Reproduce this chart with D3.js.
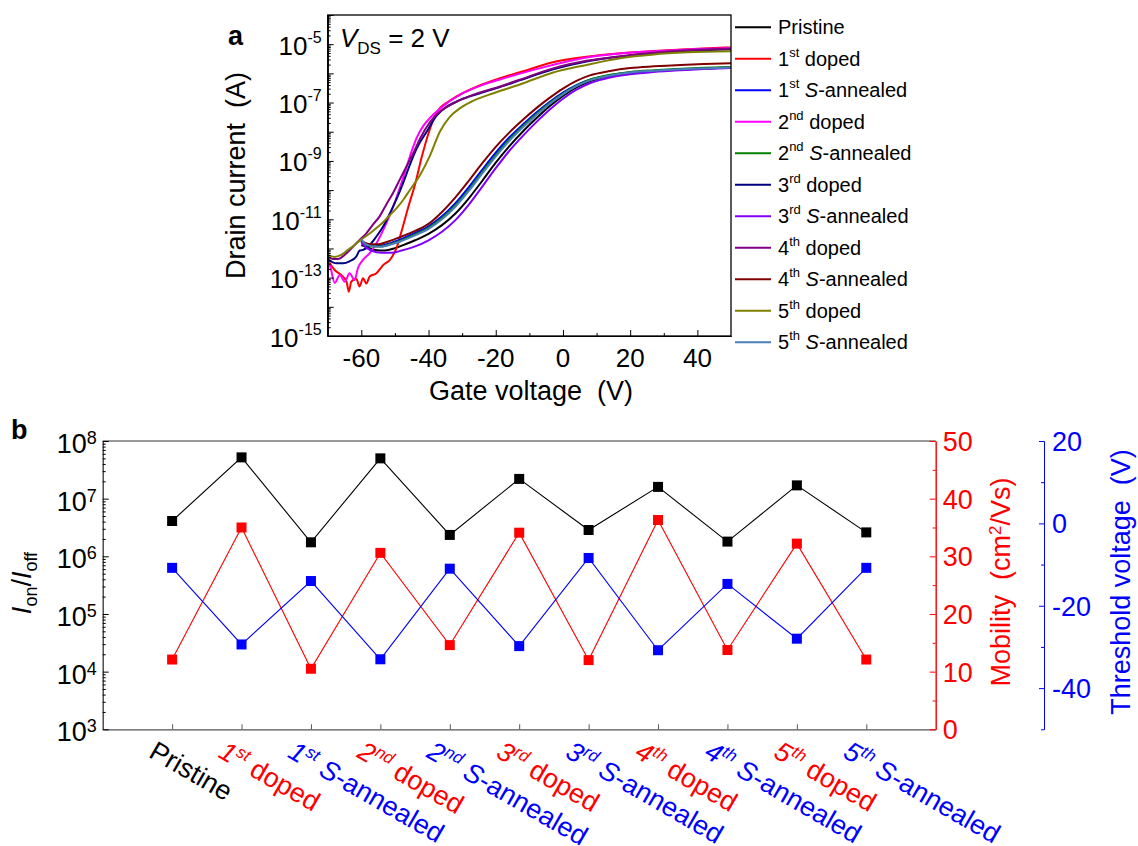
<!DOCTYPE html>
<html>
<head>
<meta charset="utf-8">
<script src="https://cdn.jsdelivr.net/npm/d3@7"></script>
<style>
  body { margin: 0; background: #fff; }
  svg { display: block; font-family: 'Liberation Sans', Arial, sans-serif; }
</style>
</head>
<body>
<div id="wrapper"></div>
<script>
// ---- panel a : transfer curves, pairs of [gate voltage (V), log10 drain current (A)] ----
const pristineCurve = [[-60, -11.88], [-58, -11.97], [-56, -12.05], [-53, -12.07], [-50, -11.99], [-47, -11.86], [-44, -11.72], [-40, -11.5], [-36, -11.2], [-32, -10.8], [-28, -10.28], [-24, -9.68], [-20, -9.06], [-16, -8.5], [-12, -8.0], [-8, -7.55], [-4, -7.13], [0, -6.77], [4, -6.48], [8, -6.27], [14, -6.09], [20, -5.99], [27, -5.92], [35, -5.87], [42, -5.83], [50, -5.8]];
const doped1Curve = [[-70, -12.39], [-68, -12.73], [-66, -12.91], [-64.4, -13.14], [-63.7, -13.48], [-63, -13.14], [-61.5, -13.04], [-60.5, -13.3], [-59.5, -13.02], [-58.5, -13.2], [-57.5, -12.96], [-55.5, -12.85], [-53.5, -12.57], [-51.5, -12.39], [-49.5, -11.98], [-48, -11.4], [-46, -10.57], [-44, -9.8], [-42, -8.86], [-40, -8.05], [-38, -7.45], [-36.5, -7.17], [-34.5, -7.0], [-31.5, -6.78], [-25.5, -6.45], [-18.5, -6.16], [-11, -5.9], [-3, -5.62], [7, -5.43], [17, -5.31], [27, -5.23], [37, -5.17], [50, -5.11]];
const annealed1Curve = [[-60, -11.71], [-59, -11.83], [-57, -11.9], [-54, -11.9], [-51, -11.8], [-48, -11.67], [-44, -11.47], [-40, -11.24], [-36, -10.9], [-32, -10.45], [-28, -9.9], [-24, -9.3], [-20, -8.72], [-16, -8.2], [-12, -7.76], [-8, -7.35], [-4, -6.98], [0, -6.66], [4, -6.4], [8, -6.22], [14, -6.06], [20, -5.97], [27, -5.92], [35, -5.87], [42, -5.83], [50, -5.8]];
const doped2Curve = [[-70, -12.46], [-69.4, -12.56], [-67.9, -13.18], [-66.4, -12.91], [-64.9, -13.14], [-63.5, -12.85], [-62, -13.08], [-61, -12.67], [-59.5, -12.39], [-57.5, -12.16], [-55.5, -11.82], [-53.5, -11.37], [-51.5, -10.85], [-49.6, -10.28], [-47.6, -9.6], [-45.5, -8.83], [-43.5, -8.2], [-41.5, -7.79], [-39.5, -7.52], [-36.5, -7.2], [-30.5, -6.72], [-24.5, -6.42], [-18.5, -6.2], [-12.5, -6.0], [-5, -5.77], [0, -5.63], [7, -5.46], [17, -5.32], [27, -5.24], [37, -5.18], [50, -5.13]];
const annealed2Curve = [[-60, -11.73], [-59, -11.86], [-57, -11.93], [-54, -11.93], [-51, -11.84], [-48, -11.72], [-44, -11.52], [-40, -11.29], [-36, -10.96], [-32, -10.52], [-28, -9.98], [-24, -9.38], [-20, -8.8], [-16, -8.27], [-12, -7.82], [-8, -7.4], [-4, -7.02], [0, -6.69], [4, -6.42], [8, -6.22], [14, -6.05], [20, -5.95], [27, -5.89], [35, -5.84], [42, -5.81], [50, -5.78]];
const doped3Curve = [[-70, -12.36], [-67.4, -12.51], [-65.4, -12.51], [-63.5, -12.44], [-61.5, -12.28], [-60.5, -12.07], [-59.5, -12.05], [-57.5, -11.88], [-55.5, -11.59], [-53.5, -11.25], [-51.5, -10.8], [-49.6, -10.33], [-47.6, -9.77], [-45.5, -9.12], [-43.5, -8.57], [-40.5, -7.99], [-37.6, -7.45], [-34.6, -7.15], [-30.6, -6.91], [-24.7, -6.68], [-17.7, -6.43], [-12.9, -6.24], [-2.9, -5.86], [7, -5.59], [17, -5.43], [27, -5.31], [37, -5.23], [50, -5.17]];
const annealed3Curve = [[-60, -11.78], [-59, -11.93], [-57, -12.07], [-54, -12.15], [-51, -12.15], [-48, -12.07], [-44, -11.93], [-40, -11.72], [-36, -11.43], [-32, -11.03], [-28, -10.5], [-24, -9.88], [-20, -9.25], [-16, -8.66], [-12, -8.15], [-8, -7.68], [-4, -7.25], [0, -6.87], [4, -6.56], [8, -6.34], [14, -6.14], [20, -6.03], [27, -5.95], [35, -5.89], [42, -5.85], [50, -5.82]];
const doped4Curve = [[-70, -12.27], [-68.5, -12.36], [-67, -12.36], [-64.4, -12.16], [-62.5, -11.94], [-60.5, -11.71], [-58.5, -11.48], [-56.6, -11.19], [-54.6, -10.91], [-52.6, -10.5], [-50.6, -10.11], [-48.6, -9.65], [-46.6, -9.2], [-44.5, -8.73], [-42.5, -8.23], [-39.5, -7.66], [-36.6, -7.31], [-32.6, -7.03], [-26.6, -6.73], [-18.7, -6.45], [-12.9, -6.22], [-2.9, -5.83], [7, -5.57], [17, -5.41], [27, -5.29], [37, -5.21], [50, -5.16]];
const annealed4Curve = [[-60, -11.73], [-59, -11.8], [-57, -11.86], [-55, -11.86], [-52, -11.76], [-48, -11.59], [-44, -11.4], [-40, -11.16], [-36, -10.75], [-32, -10.25], [-28, -9.68], [-24, -9.08], [-20, -8.52], [-16, -8.03], [-12, -7.6], [-8, -7.2], [-4, -6.84], [0, -6.52], [4, -6.26], [8, -6.07], [14, -5.92], [20, -5.82], [27, -5.76], [35, -5.71], [42, -5.68], [50, -5.65]];
const doped5Curve = [[-70, -12.22], [-68, -12.29], [-66, -12.22], [-64, -12.05], [-62, -11.88], [-60, -11.69], [-57.5, -11.49], [-55.5, -11.3], [-53.5, -11.1], [-51.5, -10.86], [-49.5, -10.62], [-47.5, -10.33], [-45.5, -9.99], [-42.5, -9.48], [-39.5, -8.8], [-36.6, -7.99], [-33.6, -7.48], [-30.6, -7.19], [-27.6, -6.99], [-20.7, -6.68], [-12.8, -6.38], [-2.9, -5.97], [7, -5.71], [17, -5.48], [27, -5.35], [37, -5.28], [50, -5.24]];
const annealed5Curve = [[-60, -11.69], [-59, -11.83], [-57, -11.92], [-54, -11.94], [-51, -11.86], [-48, -11.74], [-44, -11.55], [-40, -11.33], [-36, -11.0], [-32, -10.57], [-28, -10.03], [-24, -9.43], [-20, -8.85], [-16, -8.32], [-12, -7.86], [-8, -7.44], [-4, -7.05], [0, -6.72], [4, -6.44], [8, -6.24], [14, -6.07], [20, -5.97], [27, -5.91], [35, -5.86], [42, -5.83], [50, -5.8]];

const categories = ['Pristine', '1st doped', '1st S-annealed', '2nd doped', '2nd S-annealed', '3rd doped', '3rd S-annealed', '4th doped', '4th S-annealed', '5th doped', '5th S-annealed'];
const curves = [pristineCurve, doped1Curve, annealed1Curve, doped2Curve, annealed2Curve, doped3Curve, annealed3Curve, doped4Curve, annealed4Curve, doped5Curve, annealed5Curve];
const curveColors = ['#000000', '#ff0000', '#0000ff', '#ff00ff', '#008000', '#000080', '#8000ff', '#800080', '#800000', '#808000', '#4a7ebb'];

const gateTicks = [-60, -40, -20, 0, 20, 40];
const currentTickExponents = [-5, -7, -9, -11, -13, -15];

// ---- panel b : per-stage parameters ----
const onOffRatio = [4.1e6, 5.2e7, 1.75e6, 5.0e7, 2.35e6, 2.2e7, 2.86e6, 1.6e7, 1.8e6, 1.7e7, 2.6e6];
const mobility = [12.1, 35.0, 10.5, 30.6, 14.6, 34.1, 12.0, 36.3, 13.75, 32.2, 12.1];
const thresholdVoltage = [-10.8, -29.4, -14.0, -33.0, -11.0, -29.8, -8.4, -30.8, -14.7, -28.0, -10.8];

const ratioTickExponents = [3, 4, 5, 6, 7, 8];
const mobilityTicks = [0, 10, 20, 30, 40, 50];
const thresholdTicks = [20, 0, -20, -40];

// writes "1st S-annealed" style labels with a raised ordinal and italic S
function writeLabel(text, label, supSize, supShift, italicOrdinal) {
  const m = label.match(/^(\d)(st|nd|rd|th) (.*)$/);
  if (!m) {
    text.append('tspan').text(label);
    return;
  }
  const ordStyle = italicOrdinal ? 'italic' : 'normal';
  text.append('tspan').attr('font-style', ordStyle).text(m[1]);
  text.append('tspan').attr('font-style', ordStyle).attr('font-size', supSize).attr('dy', -supShift).text(m[2]);
  text.append('tspan').attr('dy', supShift).text('\u00a0');
  if (m[3].startsWith('S-')) {
    text.append('tspan').attr('font-style', 'italic').text('S');
    text.append('tspan').text(m[3].slice(1));
  } else {
    text.append('tspan').text(m[3]);
  }
}

function powerLabel(text, exponent, supSize, supShift) {
  text.append('tspan').text('10');
  text.append('tspan').attr('font-size', supSize).attr('dy', -supShift).text(exponent);
}

function drawFigure() {
  const svg = d3
    .select('#wrapper')
    .append('svg')
    .attr('width', 1138)
    .attr('height', 846);

  // ============ panel a ============
  const a = { left: 327.7, right: 731, top: 15, bottom: 336 };

  const xA = d3.scaleLinear().domain([-70, 50]).range([a.left, a.right]);
  const yA = d3.scaleLog().domain([1e-15, 1e-4]).range([a.bottom, a.top]);

  svg
    .append('defs')
    .append('clipPath')
    .attr('id', 'clip-a')
    .append('rect')
    .attr('x', a.left)
    .attr('y', a.top)
    .attr('width', a.right - a.left)
    .attr('height', a.bottom - a.top);

  const lineA = d3
    .line()
    .x((d) => xA(d[0]))
    .y((d) => yA(Math.pow(10, d[1])))
    .curve(d3.curveMonotoneX);

  const curveGroup = svg.append('g').attr('clip-path', 'url(#clip-a)');
  curves.forEach((c, i) => {
    curveGroup
      .append('path')
      .attr('d', lineA(c))
      .attr('fill', 'none')
      .attr('stroke', curveColors[i])
      .attr('stroke-width', 2)
      .attr('stroke-linejoin', 'round');
  });

  // ticks (inward)
  const majorDecades = d3.range(-15, -3).map((e) => Math.pow(10, e));
  const minorDecades = [];
  d3.range(-15, -4).forEach((e) => {
    for (let m = 2; m <= 9; m++) minorDecades.push(m * Math.pow(10, e));
  });

  svg
    .append('g')
    .attr('transform', `translate(${a.left},0)`)
    .call(d3.axisLeft(yA).tickValues(majorDecades).tickSizeInner(-6).tickSizeOuter(0).tickFormat(''));
  svg
    .append('g')
    .attr('transform', `translate(${a.left},0)`)
    .call(d3.axisLeft(yA).tickValues(minorDecades).tickSizeInner(-3).tickSizeOuter(0).tickFormat(''));
  svg
    .append('g')
    .attr('transform', `translate(0,${a.bottom})`)
    .call(d3.axisBottom(xA).tickValues(gateTicks).tickSizeInner(-6).tickSizeOuter(0).tickFormat(''));
  svg
    .append('g')
    .attr('transform', `translate(0,${a.bottom})`)
    .call(d3.axisBottom(xA).tickValues([-50, -30, -10, 10, 30]).tickSizeInner(-3).tickSizeOuter(0).tickFormat(''));
  svg.selectAll('.tick line').attr('stroke', '#000').attr('stroke-width', 1);

  svg
    .append('rect')
    .attr('x', a.left)
    .attr('y', a.top)
    .attr('width', a.right - a.left)
    .attr('height', a.bottom - a.top)
    .attr('fill', 'none')
    .attr('stroke', '#000')
    .attr('stroke-width', 1.3);

  // tick labels
  gateTicks.forEach((v) => {
    svg
      .append('text')
      .attr('x', xA(v))
      .attr('y', a.bottom + 31)
      .attr('text-anchor', 'middle')
      .attr('font-size', 26)
      .text(String(v));
  });
  currentTickExponents.forEach((e) => {
    const t = svg
      .append('text')
      .attr('x', a.left - 6)
      .attr('y', yA(Math.pow(10, e)) + 10.5)
      .attr('text-anchor', 'end')
      .attr('font-size', 26);
    powerLabel(t, String(e), 16, 12);
  });

  svg
    .append('text')
    .attr('x', 531)
    .attr('y', 400)
    .attr('text-anchor', 'middle')
    .attr('font-size', 27)
    .text('Gate voltage\u00a0 (V)');

  svg
    .append('text')
    .attr('transform', `translate(245,${(a.top + a.bottom) / 2}) rotate(-90)`)
    .attr('text-anchor', 'middle')
    .attr('font-size', 27)
    .text('Drain current\u00a0 (A)');

  svg
    .append('text')
    .attr('x', 228)
    .attr('y', 45)
    .attr('font-size', 27)
    .attr('font-weight', 'bold')
    .text('a');

  const vds = svg.append('text').attr('x', 340).attr('y', 47).attr('font-size', 26);
  vds.append('tspan').attr('font-style', 'italic').text('V');
  vds.append('tspan').attr('font-size', 17).attr('dy', 7).text('DS');
  vds.append('tspan').attr('dy', -7).text(' = 2 V');

  // legend
  const legend = svg.append('g');
  categories.forEach((name, i) => {
    const y = 27.3 + i * 31.5;
    legend
      .append('line')
      .attr('x1', 735)
      .attr('x2', 771)
      .attr('y1', y)
      .attr('y2', y)
      .attr('stroke', curveColors[i])
      .attr('stroke-width', 2);
    const t = legend
      .append('text')
      .attr('x', 778)
      .attr('y', y + 7)
      .attr('font-size', 20);
    writeLabel(t, name, 13, 9, false);
  });

  // ============ panel b ============
  const b = { left: 102.7, right: 935.7, top: 441, bottom: 729.3 };

  const xB = d3.scalePoint().domain(categories).range([b.left, b.right]).padding(1);
  const yRatio = d3.scaleLog().domain([1e3, 1e8]).range([b.bottom, b.top]);
  const yMob = d3.scaleLinear().domain([0, 50]).range([b.bottom, b.top]);
  const yVth = d3.scaleLinear().domain([-50, 20]).range([b.bottom, b.top]);

  // frame: top border and bottom axis
  svg
    .append('line')
    .attr('x1', b.left)
    .attr('x2', b.right)
    .attr('y1', b.top)
    .attr('y2', b.top)
    .attr('stroke', '#777')
    .attr('stroke-width', 1.3);

  const xAxisB = svg
    .append('g')
    .attr('transform', `translate(0,${b.bottom})`)
    .call(d3.axisBottom(xB).tickSizeInner(-5).tickSizeOuter(0).tickFormat(''));
  xAxisB.select('.domain').attr('stroke', '#555').attr('stroke-width', 1.3);
  xAxisB.selectAll('.tick line').attr('stroke', '#555');

  // left log axis
  const ratioMinor = [];
  d3.range(3, 8).forEach((e) => {
    for (let m = 2; m <= 9; m++) ratioMinor.push(m * Math.pow(10, e));
  });
  const yAxisB = svg
    .append('g')
    .attr('transform', `translate(${b.left},0)`)
    .call(
      d3
        .axisLeft(yRatio)
        .tickValues(ratioTickExponents.map((e) => Math.pow(10, e)))
        .tickSizeInner(-6)
        .tickSizeOuter(0)
        .tickFormat('')
    );
  yAxisB.select('.domain').attr('stroke', '#333').attr('stroke-width', 1.3);
  svg
    .append('g')
    .attr('transform', `translate(${b.left},0)`)
    .call(d3.axisLeft(yRatio).tickValues(ratioMinor).tickSizeInner(-3).tickSizeOuter(0).tickFormat(''))
    .select('.domain')
    .remove();

  ratioTickExponents.forEach((e) => {
    const t = svg
      .append('text')
      .attr('x', b.left - 6)
      .attr('y', yRatio(Math.pow(10, e)) + 12)
      .attr('text-anchor', 'end')
      .attr('font-size', 27);
    powerLabel(t, String(e), 18, 9);
  });

  // mobility axis (red)
  const mobAxis = svg
    .append('g')
    .attr('transform', `translate(${b.right},0)`)
    .call(
      d3
        .axisRight(yMob)
        .tickValues(mobilityTicks)
        .tickSizeInner(-6)
        .tickSizeOuter(0)
        .tickPadding(7)
        .tickFormat((d) => String(d))
    )
    .attr('font-family', null)
    .attr('font-size', 27);
  svg
    .append('g')
    .attr('transform', `translate(${b.right},0)`)
    .call(d3.axisRight(yMob).tickValues([5, 15, 25, 35, 45]).tickSizeInner(-3).tickSizeOuter(0).tickFormat(''))
    .selectAll('line, path')
    .attr('stroke', '#ff0000');
  mobAxis.selectAll('line, path').attr('stroke', '#ff0000');
  mobAxis.selectAll('text').attr('fill', '#ff0000').attr('dy', '0.35em');

  // threshold axis (blue)
  const vthX = 1044;
  const vthAxis = svg
    .append('g')
    .attr('transform', `translate(${vthX},0)`)
    .call(
      d3
        .axisRight(yVth)
        .tickValues(thresholdTicks)
        .tickSizeInner(-5)
        .tickSizeOuter(0)
        .tickPadding(8)
        .tickFormat((d) => String(d))
    )
    .attr('font-family', null)
    .attr('font-size', 27);
  svg
    .append('g')
    .attr('transform', `translate(${vthX},0)`)
    .call(d3.axisRight(yVth).tickValues([10, -10, -30, -50]).tickSizeInner(-3).tickSizeOuter(0).tickFormat(''))
    .selectAll('line, path')
    .attr('stroke', '#0000ff');
  vthAxis.selectAll('line, path').attr('stroke', '#0000ff');
  vthAxis.selectAll('text').attr('fill', '#0000ff').attr('dy', '0.35em');

  // series
  const series = [
    { values: onOffRatio, scale: yRatio, color: '#000000' },
    { values: mobility, scale: yMob, color: '#ff0000' },
    { values: thresholdVoltage, scale: yVth, color: '#0000ff' },
  ];
  series.forEach((s) => {
    const line = d3
      .line()
      .x((d, i) => xB(categories[i]))
      .y((d) => s.scale(d));
    svg
      .append('path')
      .attr('d', line(s.values))
      .attr('fill', 'none')
      .attr('stroke', s.color)
      .attr('stroke-width', 1.1);
  });
  series.forEach((s) => {
    svg
      .append('g')
      .selectAll('rect')
      .data(s.values)
      .join('rect')
      .attr('x', (d, i) => xB(categories[i]) - 5)
      .attr('y', (d) => s.scale(d) - 5)
      .attr('width', 10)
      .attr('height', 10)
      .attr('fill', s.color);
  });

  // category labels, rotated
  categories.forEach((c) => {
    const color = c === 'Pristine' ? '#000000' : c.endsWith('doped') ? '#ff0000' : '#0000ff';
    const t = svg
      .append('text')
      .attr('transform', `translate(${xB(c) - 24.5},756.5) rotate(30)`)
      .attr('font-size', 27)
      .attr('fill', color);
    writeLabel(t, c, 17, 10, true);
  });

  // axis titles
  const ratioTitle = svg
    .append('text')
    .attr('transform', `translate(31,583) rotate(-90)`)
    .attr('text-anchor', 'middle')
    .attr('font-size', 27);
  ratioTitle.append('tspan').attr('font-style', 'italic').text('I');
  ratioTitle.append('tspan').attr('font-size', 18).attr('dy', 6).text('on');
  ratioTitle.append('tspan').attr('dy', -6).text('/');
  ratioTitle.append('tspan').attr('font-style', 'italic').text('I');
  ratioTitle.append('tspan').attr('font-size', 18).attr('dy', 6).text('off');

  const mobTitle = svg
    .append('text')
    .attr('transform', `translate(1010,582) rotate(-90)`)
    .attr('text-anchor', 'middle')
    .attr('font-size', 27)
    .attr('fill', '#ff0000');
  mobTitle.append('tspan').text('Mobility\u00a0 (cm');
  mobTitle.append('tspan').attr('font-size', 17).attr('dy', -9).text('2');
  mobTitle.append('tspan').attr('dy', 9).text('/Vs)');

  svg
    .append('text')
    .attr('transform', `translate(1130,582) rotate(-90)`)
    .attr('text-anchor', 'middle')
    .attr('font-size', 27)
    .attr('fill', '#0000ff')
    .text('Threshold voltage\u00a0 (V)');

  svg
    .append('text')
    .attr('x', 11)
    .attr('y', 439)
    .attr('font-size', 27)
    .attr('font-weight', 'bold')
    .text('b');
}

drawFigure();
</script>
</body>
</html>
